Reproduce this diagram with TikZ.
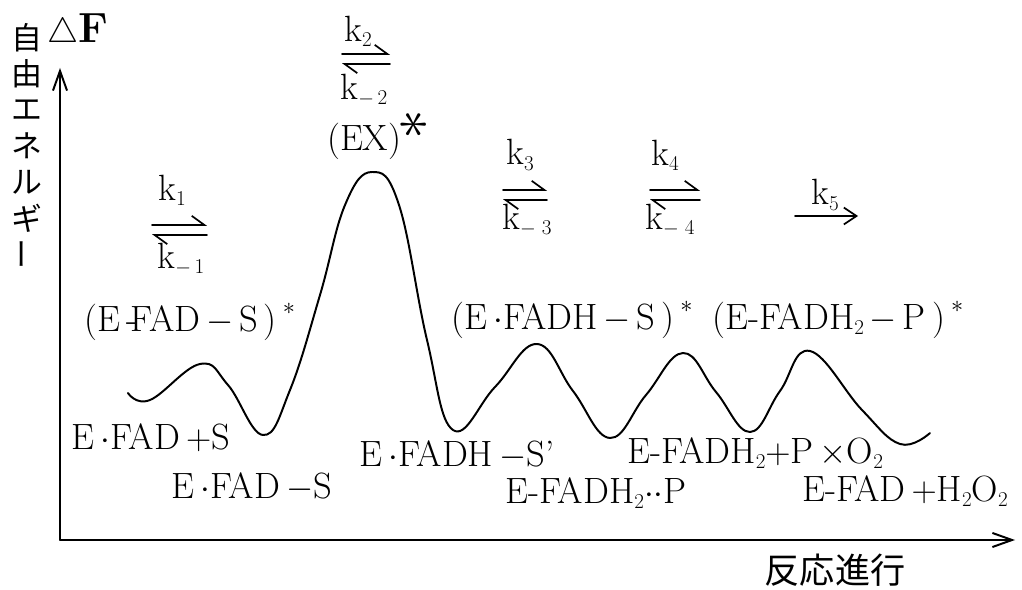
\documentclass[tikz,border=0pt]{standalone}
\usepackage{fontspec}
\newfontfamily\cjk{Noto Sans CJK JP}
\usetikzlibrary{arrows.meta}

\newcommand{\lo}[1]{\raisebox{-0.14em}{\fontsize{15}{15}\selectfont #1}}
\newcommand{\up}{\,\raisebox{0.45em}{\fontsize{16}{16}\selectfont$\ast$}}

\tikzset{
  lbl/.style={inner sep=0pt, font=\fontsize{26}{30}\selectfont},
  jlbl/.style={inner sep=0pt, font=\cjk\fontsize{22}{26}\selectfont},
  harp/.style={line width=1.2pt, -{Straight Barb[harpoon,length=9pt,width=13pt]}},
}

\begin{document}
\begin{tikzpicture}[x=0.025cm, y=-0.025cm, line join=round, line cap=round, >={Straight Barb[length=14pt,width=10pt]}]
	\useasboundingbox (0,0) rectangle (1022,590);
	\path (60,540) coordinate (O) (60,68) coordinate (Ymax) (1015,540) coordinate (Xmax);
	\draw[->, line width=1.4pt] (O) -- (Ymax);
	\draw[->, line width=1.4pt] (O) -- (Xmax);
	% axis labels
	\node[lbl, font=\fontsize{30}{30}\selectfont] (dF) at (78,32) {$\triangle$\textbf{F}};
	\foreach \c [count=\i] in {自,由,エ,ネ,ル,ギ} \node[jlbl] (y\i) at (27,{2+36*\i}) {\c};
	\node[jlbl, rotate=90] (y7) at (27,254) {ー};
	\node[jlbl, font=\cjk\fontsize{25}{28}\selectfont] (xl) at (835,570) {反応進行};
	% energy profile
	\draw[line width=1.4pt, smooth, tension=0.7] plot coordinates {(128,393) (150,400) (200,364) (228,385) (263,435) (290,390) (320,295) (345,205) (372,172) (399,205) (427,340) (453,430) (495,387) (537,344) (573,391) (610,438) (646,395) (683,353) (716,392) (750,432) (780,391) (810,351) (862,410) (900,444) (930,433)};
	% rate constants
	\foreach \x/\y/\w in {152/225/55, 342/54/48, 503/190/44, 650/190/50} {
		\draw[harp] (\x,\y) -- ++(\w,0);
		\draw[harp] (\x+\w,\y+10) -- ++(-\w,0);
	}
	\draw[harp, -{Straight Barb[length=9pt,width=12pt]}] (795,216) -- (858,216);
	\node[lbl] (k1) at (172,190) {k\lo{1}};
	\node[lbl] (km1) at (181,259) {k\lo{$-$\,1}};
	\node[lbl] (k2) at (358,31) {k\lo{2}};
	\node[lbl] (km2) at (364,90) {k\lo{$-$\,2}};
	\node[lbl] (k3) at (520,155) {k\lo{3}};
	\node[lbl] (km3) at (527,220) {k\lo{$-$\;3}};
	\node[lbl] (k4) at (665,155) {k\lo{4}};
	\node[lbl] (km4) at (670,220) {k\lo{$-$\;4}};
	\node[lbl] (k5) at (825,195) {k\lo{5}};
	% states
	\node[lbl] (ex) at (378,135) {(EX)\raisebox{0.3em}{\rotatebox{90}{\scalebox{1.7}{$\ast$}}}};
	\node[lbl] (ts1) at (190,322) {(E\,-\kern-5pt FAD$\,-\,$S\,)\up};
	\node[lbl] (ts3) at (572,320) {(E\,$\cdot$FADH$\,-\,$S\,)\up};
	\node[lbl] (ts4) at (838,320) {(E-FADH\lo{2}$\,-\,$P\,)\up};
	\node[lbl] (s0) at (151,438) {E\,$\cdot$FAD\,$+$S};
	\node[lbl] (s1) at (252,487) {E\,$\cdot$FAD\,$-$S};
	\node[lbl] (s2) at (457,455) {E\,$\cdot$FADH\,$-$S’};
	\node[lbl] (s3) at (596,493) {E-FADH\lo{2}$\cdot\cdot$P};
	\node[lbl] (s4) at (755,453) {E-FADH\lo{2}$+$P\,$\times$O\lo{2}};
	\node[lbl] (s5) at (905,491) {E-FAD\,$+$H\lo{2}O\lo{2}};
\end{tikzpicture}
\end{document}
